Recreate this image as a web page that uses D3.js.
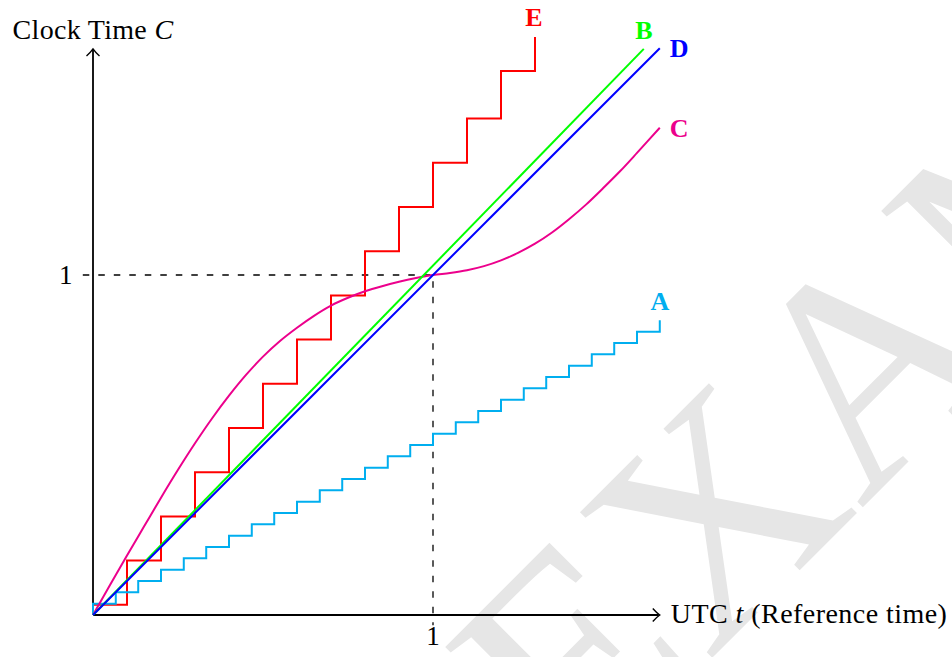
<!DOCTYPE html>
<html>
<head>
<meta charset="utf-8">
<script src="https://cdn.jsdelivr.net/npm/d3@7"></script>
<style>
    body { margin: 0; background: #fff; }
    svg { display: block; font-family: 'Liberation Serif', 'DejaVu Serif', serif; }
</style>
</head>
<body>
<svg id="chart" width="952" height="657"></svg>
<script>
/* Clock drift sketch: five clocks (A-E) plotted against reference time.
   Values are read off the reference picture, in units of the "1" ticks. */

// A: slow clock that ticks in small steps (point list for a step-after line)
const aTimes  = [0, 0, 0.067, 0.133, 0.2, 0.267, 0.333, 0.4, 0.467, 0.533, 0.6, 0.667, 0.733, 0.8,
                 0.867, 0.933, 1.0, 1.067, 1.133, 1.2, 1.267, 1.333, 1.4, 1.467, 1.533, 1.6, 1.667];
const aValues = [0, 0.033, 0.067, 0.1, 0.133, 0.167, 0.2, 0.233, 0.267, 0.3, 0.333, 0.367, 0.4, 0.433,
                 0.467, 0.5, 0.533, 0.567, 0.6, 0.633, 0.667, 0.7, 0.733, 0.767, 0.8, 0.833, 0.867];

// B: slightly fast, smooth clock
const bTimes  = [0, 1.62];
const bValues = [0, 1.665];

// C: wandering clock that agrees at t = 1
const cTimes  = [0, 0.05, 0.1, 0.15, 0.2, 0.25, 0.3, 0.35, 0.4, 0.45, 0.5, 0.55, 0.6, 0.65, 0.7,
                 0.75, 0.8, 0.85, 0.9, 0.95, 1.0, 1.05, 1.1, 1.15, 1.2, 1.25, 1.3, 1.35, 1.4,
                 1.45, 1.5, 1.55, 1.6, 1.667];
const cValues = [0, 0.088, 0.175, 0.26, 0.345, 0.427, 0.505, 0.578, 0.645, 0.706, 0.76, 0.806, 0.845,
                 0.88, 0.91, 0.933, 0.952, 0.967, 0.98, 0.991, 1.0, 1.006, 1.014, 1.026, 1.043,
                 1.065, 1.092, 1.125, 1.164, 1.207, 1.255, 1.305, 1.359, 1.433];

// D: perfect clock
const dTimes  = [0, 1.667];
const dValues = [0, 1.667];

// E: fast clock that ticks in big steps
const eTimes  = [0, 0, 0.1, 0.2, 0.3, 0.4, 0.5, 0.6, 0.7, 0.8, 0.9, 1.0, 1.1, 1.2, 1.3];
const eValues = [0, 0.03, 0.16, 0.29, 0.42, 0.55, 0.68, 0.81, 0.94, 1.07, 1.20, 1.33, 1.46, 1.60, 1.70];

const colors = {
    A: '#00aeef',
    B: '#00ff00',
    C: '#ec008c',
    D: '#0000ff',
    E: '#ff0000'
};

const svg = d3.select('#chart');
const x = d3.scaleLinear().domain([0, 1]).range([93, 433]);
const y = d3.scaleLinear().domain([0, 1]).range([615, 275]);
const xMax = 1.667, yMax = 1.665;

// faint watermark behind everything
svg.append('text')
    .attr('transform', 'translate(578,792) rotate(-45)')
    .attr('font-size', 300)
    .attr('fill', '#e6e6e6')
    .text('EXAMPLE');

// dashed guides to (1, 1)
svg.append('path')
    .attr('d', `M${x(-0.03)},${y(1)}H${x(1)}V${y(-0.03)}`)
    .attr('fill', 'none')
    .attr('stroke', '#000')
    .attr('stroke-width', 1.3)
    .attr('stroke-dasharray', '6.5,9');

// axes with open arrow tips
const axis = svg.append('g')
    .attr('fill', 'none')
    .attr('stroke', '#000')
    .attr('stroke-width', 1.8);
axis.append('path').attr('d', `M${x(0)},${y(0)}H${x(xMax) - 1}`);
axis.append('path').attr('d', `M${x(0)},${y(0)}V${y(yMax) + 1}`);
axis.append('path')
    .attr('stroke-width', 1.4)
    .attr('d', `M${x(xMax) - 7},${y(0) - 6.5}Q${x(xMax) - 3},${y(0) - 2} ${x(xMax)},${y(0)}Q${x(xMax) - 3},${y(0) + 2} ${x(xMax) - 7},${y(0) + 6.5}`);
axis.append('path')
    .attr('stroke-width', 1.4)
    .attr('d', `M${x(0) - 6.5},${y(yMax) + 7}Q${x(0) - 2},${y(yMax) + 3} ${x(0)},${y(yMax)}Q${x(0) + 2},${y(yMax) + 3} ${x(0) + 6.5},${y(yMax) + 7}`);

// axis titles and the two "1" ticks
const yTitle = svg.append('text')
    .attr('x', x(0))
    .attr('y', y(yMax) - 10)
    .attr('text-anchor', 'middle')
    .attr('font-size', 28)
    .attr('letter-spacing', 0.3);
yTitle.append('tspan').text('Clock Time ');
yTitle.append('tspan').attr('font-style', 'italic').text('C');

const xTitle = svg.append('text')
    .attr('x', x(xMax) + 11)
    .attr('y', y(0) + 8)
    .attr('font-size', 28)
    .attr('letter-spacing', 0.45);
xTitle.append('tspan').text('UTC ');
xTitle.append('tspan').attr('font-style', 'italic').text('t');
xTitle.append('tspan').text(' (Reference time)');

svg.append('text')
    .attr('x', x(-0.08))
    .attr('y', y(1) + 9)
    .attr('text-anchor', 'middle')
    .attr('font-size', 27)
    .text('1');
svg.append('text')
    .attr('x', x(1))
    .attr('y', y(0) + 30)
    .attr('text-anchor', 'middle')
    .attr('font-size', 27)
    .text('1');

// series
const smooth = d3.line().x(d => x(d[0])).y(d => y(d[1])).curve(d3.curveCatmullRom.alpha(0.5));
const steps = d3.line().x(d => x(d[0])).y(d => y(d[1])).curve(d3.curveStepAfter);
const straight = d3.line().x(d => x(d[0])).y(d => y(d[1]));

const series = [
    {name: 'E', times: eTimes, values: eValues, line: steps},
    {name: 'A', times: aTimes, values: aValues, line: steps},
    {name: 'C', times: cTimes, values: cValues, line: smooth},
    {name: 'B', times: bTimes, values: bValues, line: straight},
    {name: 'D', times: dTimes, values: dValues, line: straight}
];

svg.append('g').selectAll('path')
    .data(series)
    .join('path')
    .attr('d', s => s.line(s.times.map((t, i) => [t, s.values[i]])))
    .attr('fill', 'none')
    .attr('stroke', s => colors[s.name])
    .attr('stroke-width', 2);

// end labels: E, B, A sit above their ends, C and D to the right
const labelOffsets = {
    A: {dx: 0, dy: -10, anchor: 'middle'},
    B: {dx: 0, dy: -10, anchor: 'middle'},
    C: {dx: 10, dy: 9, anchor: 'start'},
    D: {dx: 10, dy: 9, anchor: 'start'},
    E: {dx: -1, dy: -11, anchor: 'middle'}
};
svg.append('g').selectAll('text')
    .data(series)
    .join('text')
    .attr('x', s => x(s.times[s.times.length - 1]) + labelOffsets[s.name].dx)
    .attr('y', s => y(s.values[s.values.length - 1]) + labelOffsets[s.name].dy)
    .attr('text-anchor', s => labelOffsets[s.name].anchor)
    .attr('font-size', 26)
    .attr('font-weight', 'bold')
    .attr('fill', s => colors[s.name])
    .text(s => s.name);
</script>
</body>
</html>
